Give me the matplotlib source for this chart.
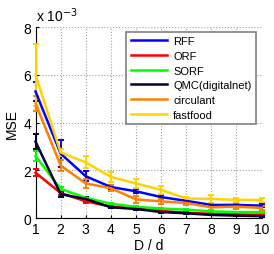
import numpy as np
import matplotlib
matplotlib.use('Agg')
import matplotlib.pyplot as plt
from matplotlib.lines import Line2D

plt.rcParams['font.family'] = ['Liberation Sans', 'DejaVu Sans']

# data (MSE in units of 1e-3)
ratio = [1, 2, 3, 4, 5, 6, 7, 8, 9, 10]
rff = [5.3, 2.7, 1.75, 1.3, 1.12, 0.88, 0.72, 0.55, 0.55, 0.52]
rff_err = [0.4, 0.55, 0.2, 0.1, 0.08, 0.08, 0.05, 0.05, 0.05, 0.05]
orf = [1.9, 1.05, 0.7, 0.48, 0.4, 0.3, 0.22, 0.18, 0.15, 0.14]
orf_err = [0.15, 0.08, 0.05, 0.04, 0.03, 0.03, 0.02, 0.02, 0.02, 0.02]
sorf = [2.6, 1.22, 0.85, 0.6, 0.47, 0.4, 0.35, 0.28, 0.25, 0.25]
sorf_err = [0.2, 0.08, 0.05, 0.04, 0.03, 0.03, 0.03, 0.02, 0.02, 0.02]
qmc = [3.2, 1.0, 0.8, 0.45, 0.38, 0.25, 0.2, 0.13, 0.1, 0.08]
qmc_err = [0.3, 0.1, 0.07, 0.04, 0.03, 0.03, 0.02, 0.02, 0.02, 0.02]
circ = [4.8, 2.2, 1.45, 1.25, 0.78, 0.7, 0.63, 0.45, 0.48, 0.42]
circ_err = [0.3, 0.25, 0.2, 0.12, 0.15, 0.1, 0.08, 0.1, 0.12, 0.1]
fast = [6.0, 2.75, 2.33, 1.72, 1.45, 1.18, 0.82, 0.8, 0.76, 0.76]
fast_err = [1.3, 0.15, 0.25, 0.2, 0.2, 0.17, 0.08, 0.15, 0.08, 0.1]

series = [
    ('RFF', rff, rff_err, '#0000ff'),
    ('ORF', orf, orf_err, '#ff0000'),
    ('SORF', sorf, sorf_err, '#00ff00'),
    ('QMC(digitalnet)', qmc, qmc_err, '#000033'),
    ('circulant', circ, circ_err, '#ff8000'),
    ('fastfood', fast, fast_err, '#ffd200'),
]

fig = plt.figure(figsize=(2.74, 2.55), dpi=100)
ax = fig.add_axes([0.1296, 0.141, 0.8248, 0.749])

handles = []
for name, y, e, c in series:
    ax.errorbar(ratio, y, yerr=e, color=c, lw=1.8, elinewidth=1.4,
                capsize=2.5, capthick=1.4, clip_on=False, zorder=3)
    handles.append(Line2D([], [], color=c, lw=1.8, label=name))

ax.set_xlim(1, 10)
ax.set_ylim(0, 8)
ax.set_xticks(ratio)
ax.set_yticks([0, 2, 4, 6, 8])
ax.tick_params(direction='in', length=2, labelsize=10, pad=3)
ax.grid(True, ls=':', color='#a0a0a0', lw=0.8)
ax.spines['top'].set_visible(False)
ax.spines['right'].set_visible(False)

ax.set_xlabel('D / d', fontsize=10, labelpad=1)
ax.set_ylabel('MSE', fontsize=10, labelpad=3)
ax.text(0.0, 1.015, r'x 10$^{-3}$', transform=ax.transAxes, fontsize=10,
        ha='left', va='bottom')

leg = ax.legend(handles=handles, loc='upper right', bbox_to_anchor=(0.975, 0.975),
                fontsize=8, fancybox=False, framealpha=1, edgecolor='#808080',
                handlelength=3.3, handletextpad=0.5, labelspacing=0.42,
                borderpad=0.4, borderaxespad=0)
leg.get_frame().set_linewidth(1.2)
leg.set_zorder(5)

fig.savefig('out.png', dpi=100)
